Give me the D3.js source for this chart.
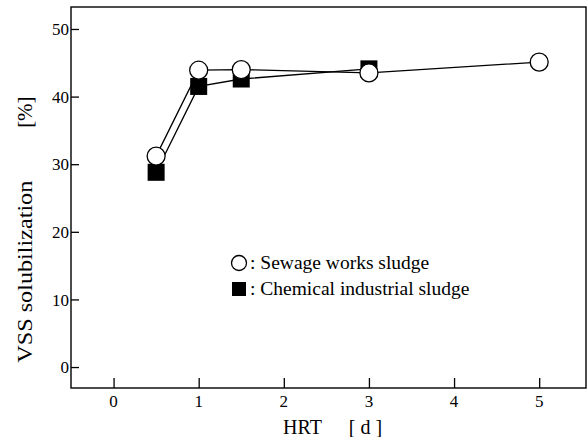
<!DOCTYPE html>
<html><head><meta charset="utf-8">
<script src="https://cdn.jsdelivr.net/npm/d3@7"></script>
<style>body{margin:0;background:#fff}svg{display:block}text{font-family:"Liberation Serif","Times New Roman","DejaVu Serif",serif;fill:#000}</style>
</head><body><svg id="c" width="587" height="437"></svg>
<script>
const hrt = [0.5, 1, 1.5, 3, 5];
const sewage = [31.2, 43.9, 44.0, 43.5, 45.1];
const chemHrt = [0.5, 1, 1.5, 3];
const chemical = [28.8, 41.5, 42.6, 44.1];
const xTicks = [0, 1, 2, 3, 4, 5];
const yTicks = [0, 10, 20, 30, 40, 50];
const legendLabels = [": Sewage works sludge", ": Chemical industrial sludge"];

const svg = d3.select("#c");
const L = 71, R = 586, T = 7, B = 388;
const x = d3.scaleLinear().domain([-0.5, 5.55]).range([L, R]);
const y = d3.scaleLinear().domain([-3.1, 53.25]).range([B, T]);
const ff = "Liberation Serif, Times New Roman, DejaVu Serif, serif";

// frame
svg.append("rect").attr("x", L).attr("y", T).attr("width", R - L).attr("height", B - T)
  .attr("fill", "none").attr("stroke", "#000").attr("stroke-width", 1.4);

// y axis (ticks inward)
const ya = svg.append("g").attr("transform", `translate(${L},0)`)
  .call(d3.axisRight(y).tickValues(yTicks).tickSize(8).tickFormat(""));
ya.select(".domain").remove();
ya.selectAll("line").attr("stroke", "#000").attr("stroke-width", 1.3);
svg.selectAll(".ylab").data(yTicks).join("text").attr("class", "ylab")
  .attr("x", L - 2).attr("y", d => y(d)).attr("dy", "0.36em")
  .attr("text-anchor", "end").attr("font-family", ff).attr("font-size", 17).text(d => d);

// x axis (ticks inward)
const xa = svg.append("g").attr("transform", `translate(0,${B})`)
  .call(d3.axisTop(x).tickValues(xTicks).tickSize(10).tickFormat(""));
xa.select(".domain").remove();
xa.selectAll("line").attr("stroke", "#000").attr("stroke-width", 1.3);
svg.selectAll(".xlab").data(xTicks).join("text").attr("class", "xlab")
  .attr("x", d => x(d)).attr("y", B + 19)
  .attr("text-anchor", "middle").attr("font-family", ff).attr("font-size", 17).text(d => d);

// axis titles
const cx = (L + R) / 2;
svg.append("text").attr("x", cx - 26).attr("y", B + 46).attr("text-anchor", "middle")
  .attr("font-family", ff).attr("font-size", 20).text("HRT");
svg.append("text").attr("x", cx + 37).attr("y", B + 46).attr("text-anchor", "middle")
  .attr("font-family", ff).attr("font-size", 20).text("[ d ]");
svg.append("text").attr("transform", `translate(32,${y(14.1)}) rotate(-90)`)
  .attr("text-anchor", "middle").attr("font-family", ff).attr("font-size", 21)
  .attr("textLength", 182).attr("lengthAdjust", "spacingAndGlyphs").text("VSS solubilization");
svg.append("text").attr("transform", `translate(32,${y(37.7)}) rotate(-90)`)
  .attr("text-anchor", "middle").attr("font-family", ff).attr("font-size", 21).text("[%]");

// lines
const line = d3.line().x(d => x(d[0])).y(d => y(d[1]));
const chemPts = chemHrt.map((h, i) => [h, chemical[i]]);
const sewPts = hrt.map((h, i) => [h, sewage[i]]);
svg.append("path").attr("d", line(chemPts)).attr("fill", "none").attr("stroke", "#000").attr("stroke-width", 1.3);
svg.append("path").attr("d", line(sewPts)).attr("fill", "none").attr("stroke", "#000").attr("stroke-width", 1.3);

// markers
const s = 17;
svg.selectAll(".sq").data(chemPts).join("rect").attr("class", "sq")
  .attr("x", d => x(d[0]) - s / 2).attr("y", d => y(d[1]) - s / 2)
  .attr("width", s).attr("height", s).attr("fill", "#000");
svg.selectAll(".ci").data(sewPts).join("circle").attr("class", "ci")
  .attr("cx", d => x(d[0])).attr("cy", d => y(d[1])).attr("r", 9)
  .attr("fill", "#fff").attr("stroke", "#000").attr("stroke-width", 1.3);

// legend
const lx = 239, ly = 263, gap = 26;
svg.append("circle").attr("cx", lx).attr("cy", ly).attr("r", 7.5)
  .attr("fill", "#fff").attr("stroke", "#000").attr("stroke-width", 1.3);
svg.append("rect").attr("x", lx - 7).attr("y", ly + gap - 7).attr("width", 14).attr("height", 14).attr("fill", "#000");
legendLabels.forEach((t, i) => {
  svg.append("text").attr("x", lx + 11).attr("y", ly + i * gap + 6)
    .attr("font-family", ff).attr("font-size", 19.5).text(t);
});
</script></body></html>
